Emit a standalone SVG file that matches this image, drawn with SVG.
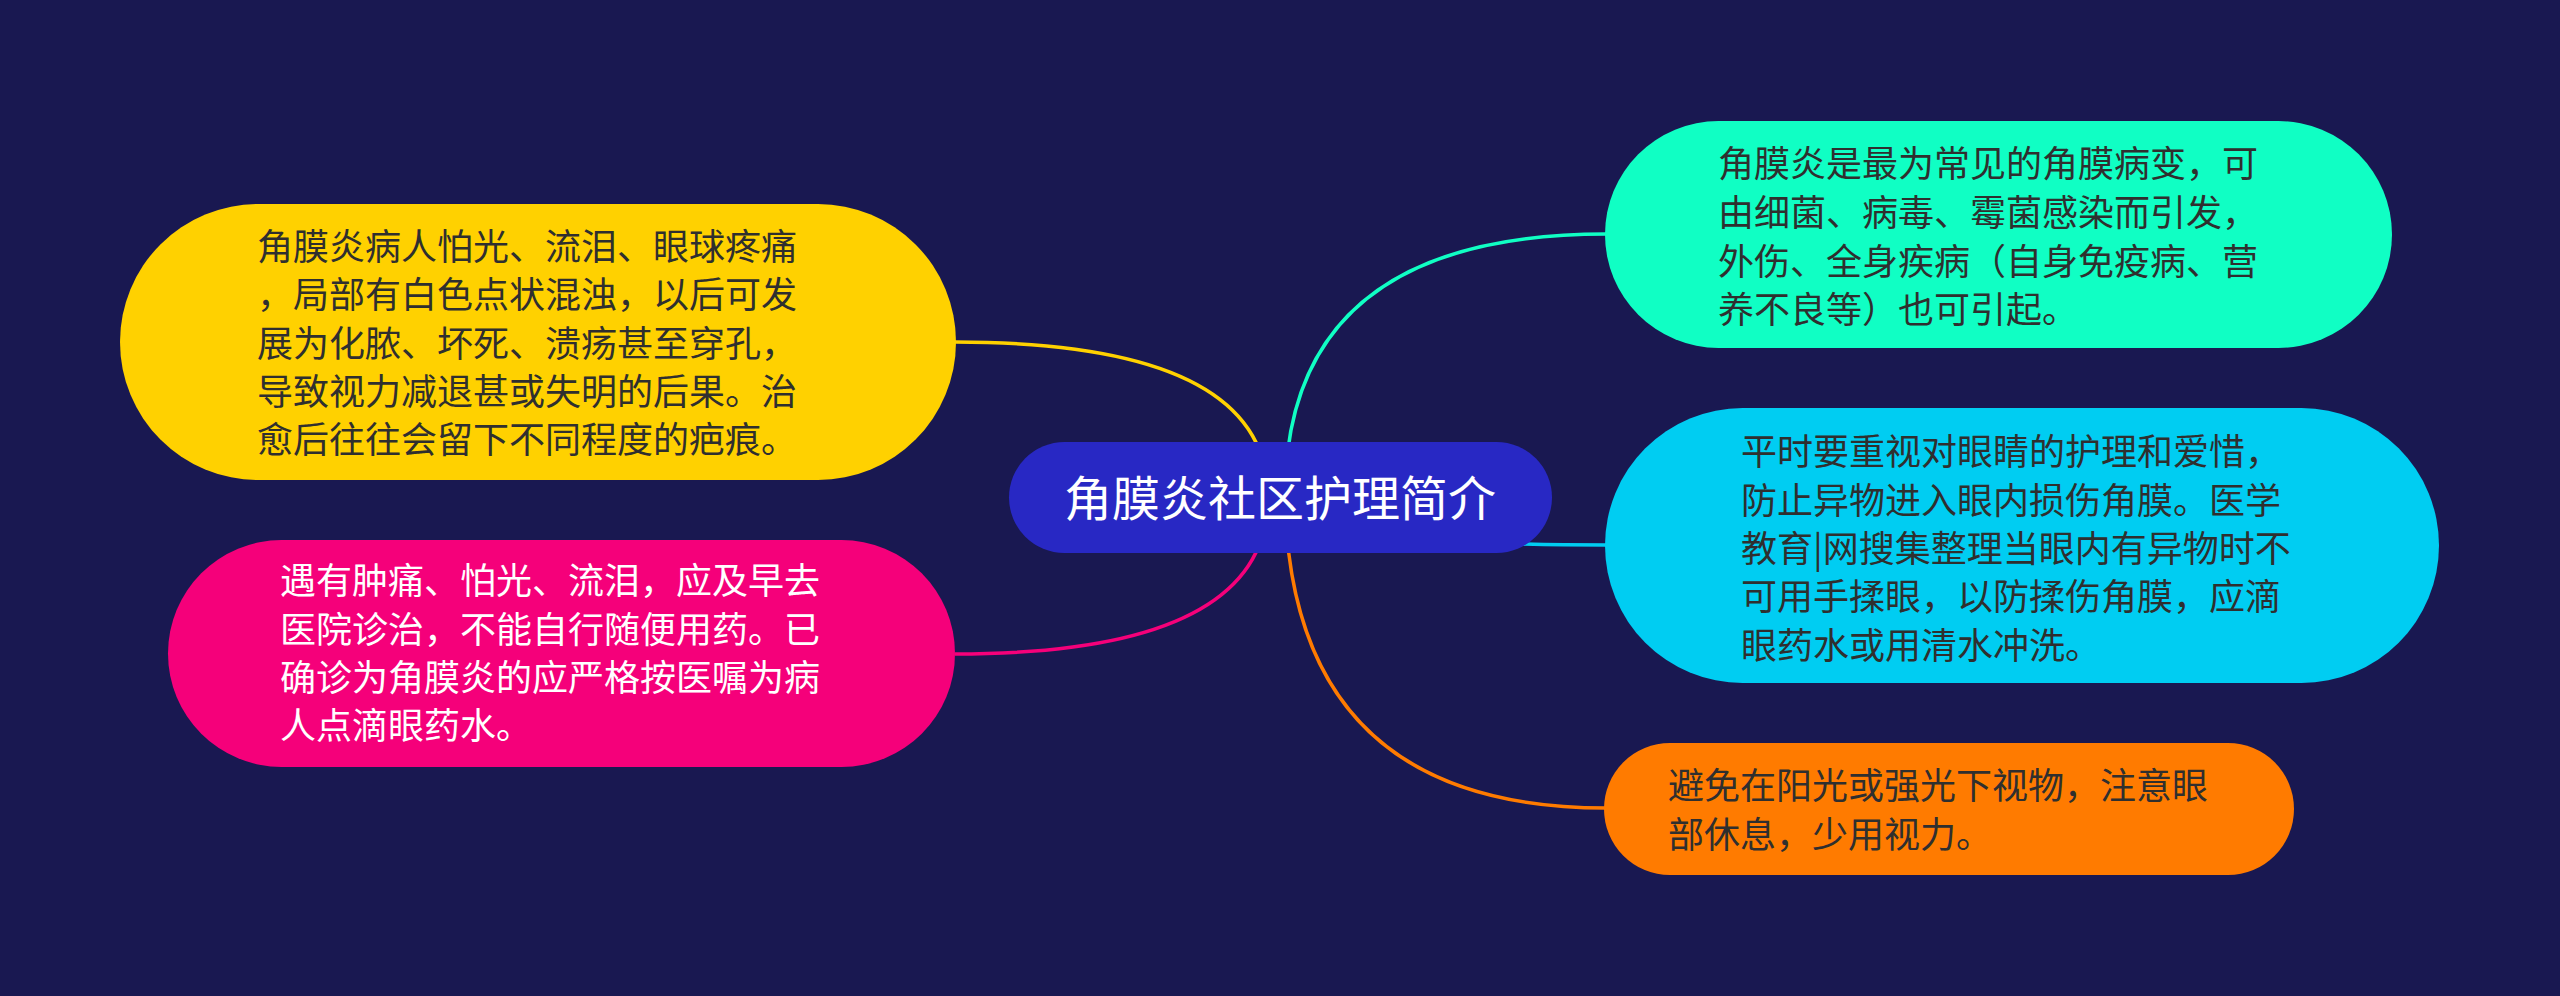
<svg xmlns="http://www.w3.org/2000/svg" width="2560" height="996" viewBox="0 0 2560 996">
<style>
.t{font-family:"Noto Sans CJK SC","Noto Sans",sans-serif;font-size:36px}
.dk{fill:#2f2f2f}
.wt{fill:#ffffff}
.c{fill:none;stroke-width:3.5}
</style>
<rect width="2560" height="996" fill="#191851"/>
<g id="connectors">
<path class="c" stroke="#FFD100" d="M1268 497 Q1268 342 955 342"/>
<path class="c" stroke="#F5007A" d="M1268 497 Q1268 654 955 654"/>
<path class="c" stroke="#10FFC4" d="M1285 497 Q1285 234 1606 234"/>
<path class="c" stroke="#00CDF2" d="M1285 497 Q1285 545 1607 545"/>
<path class="c" stroke="#FF7B00" d="M1285 497 Q1290 808 1606 808"/>
</g>
<g id="center">
<rect x="1009" y="442" width="543" height="111" rx="55.5" fill="#2828C4"/>
<text x="1280" y="516" text-anchor="middle" font-family="Noto Sans CJK SC, Noto Sans, sans-serif" font-size="48" fill="#ffffff">角膜炎社区护理简介</text>
</g>
<g id="node-yellow">
<rect x="120" y="204" width="836" height="276" rx="138" fill="#FFD100"/>
<text class="t dk"><tspan x="257" y="260">角膜炎病人怕光、流泪、眼球疼痛</tspan><tspan x="257" y="308.3">，局部有白色点状混浊，以后可发</tspan><tspan x="257" y="356.6">展为化脓、坏死、溃疡甚至穿孔，</tspan><tspan x="257" y="404.9">导致视力减退甚或失明的后果。治</tspan><tspan x="257" y="453.2">愈后往往会留下不同程度的疤痕。</tspan></text>
</g>
<g id="node-pink">
<rect x="168" y="540" width="787" height="227" rx="113.5" fill="#F5007A"/>
<text class="t wt"><tspan x="280" y="594.4">遇有肿痛、怕光、流泪，应及早去</tspan><tspan x="280" y="642.7">医院诊治，不能自行随便用药。已</tspan><tspan x="280" y="691">确诊为角膜炎的应严格按医嘱为病</tspan><tspan x="280" y="739.3">人点滴眼药水。</tspan></text>
</g>
<g id="node-teal">
<rect x="1605" y="121" width="787" height="227" rx="113.5" fill="#10FFC4"/>
<text class="t dk"><tspan x="1718" y="177">角膜炎是最为常见的角膜病变，可</tspan><tspan x="1718" y="225.8">由细菌、病毒、霉菌感染而引发，</tspan><tspan x="1718" y="274.6">外伤、全身疾病（自身免疫病、营</tspan><tspan x="1718" y="323.4">养不良等）也可引起。</tspan></text>
</g>
<g id="node-cyan">
<rect x="1605" y="408" width="834" height="275" rx="137.5" fill="#00CDF2"/>
<text class="t dk"><tspan x="1741" y="465.4">平时要重视对眼睛的护理和爱惜，</tspan><tspan x="1741" y="513.7">防止异物进入眼内损伤角膜。医学</tspan><tspan x="1741" y="562">教育|网搜集整理当眼内有异物时不</tspan><tspan x="1741" y="610.3">可用手揉眼，以防揉伤角膜，应滴</tspan><tspan x="1741" y="658.6">眼药水或用清水冲洗。</tspan></text>
</g>
<g id="node-orange">
<rect x="1604" y="743" width="690" height="132" rx="66" fill="#FF7B00"/>
<text class="t dk"><tspan x="1668" y="799.4">避免在阳光或强光下视物，注意眼</tspan><tspan x="1668" y="847.7">部休息，少用视力。</tspan></text>
</g>
</svg>
